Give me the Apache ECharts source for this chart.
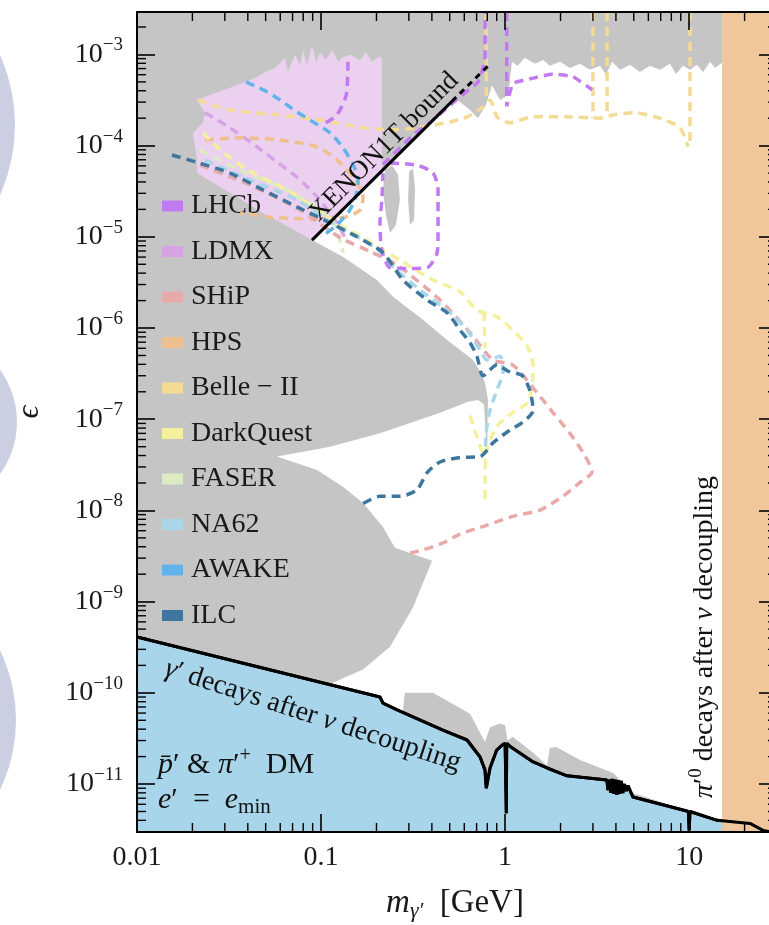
<!DOCTYPE html>
<html>
<head>
<meta charset="utf-8">
<script src="https://cdn.jsdelivr.net/npm/echarts@6/dist/echarts.min.js"></script>
<style>
html, body { margin: 0; padding: 0; background: #fff; }
#chart { width: 769px; height: 925px; }
</style>
</head>
<body>
<div id="chart"></div>
<script>
// values, as [m (GeV), epsilon]
const xTickLabels = ['0.01', '0.1', '1', '10']
const yTickPowers = [-11, -10, -9, -8, -7, -6, -5, -4, -3]
const minorSteps = [2, 3, 4, 5, 6, 7, 8, 9]
const xMin = 0.01
const xMax = 30
const yMin = 2.98e-12
const yMax = 2.92e-3

// excluded region (grey)
const greyMain = [
  [0.01, 2.92e-3], [15.1, 2.92e-3], [15.1, 8.1e-4], [13.8, 7.1e-4], [13.0, 8.3e-4], [11.9, 6.4e-4],
  [11.0, 7.7e-4], [10.1, 6.8e-4], [9.25, 7.5e-4], [8.48, 6.1e-4], [7.86, 7.9e-4], [6.94, 6.8e-4],
  [6.12, 7.5e-4], [5.4, 6.4e-4], [4.77, 7.7e-4], [4.21, 6.8e-4], [3.81, 8.3e-4], [3.53, 6.0e-4],
  [3.28, 7.5e-4], [2.89, 6.8e-4], [2.55, 7.9e-4], [2.25, 7.1e-4], [1.99, 8.3e-4], [1.75, 7.5e-4],
  [1.61, 8.7e-4], [1.45, 7.9e-4], [1.28, 9.2e-4], [1.17, 7.5e-4], [1.09, 8.3e-4], [1.04, 3.6e-4],
  [0.938, 3.17e-4], [0.849, 4.6e-4], [0.787, 2.8e-4], [0.712, 2.0e-4], [0.645, 2.46e-4], [0.535, 3.3e-4],
  [0.0893, 9.24e-6], [0.132, 6.0e-6], [0.201, 3.36e-6], [0.246, 2.2e-6], [0.358, 1.23e-6], [0.484, 7.4e-7],
  [0.669, 4.47e-7], [0.731, 3.36e-7], [0.778, 2.5e-7], [0.807, 1.63e-7], [0.797, 4.1e-8], [0.768, 1.45e-7],
  [0.712, 1.63e-7], [0.629, 1.56e-7], [0.443, 1.18e-7], [0.316, 9.3e-8], [0.209, 7.0e-8], [0.112, 5.0e-8],
  [0.0577, 3.9e-8], [0.095, 2.78e-8], [0.132, 1.81e-8], [0.169, 1.21e-8], [0.217, 6.6e-9], [0.252, 3.9e-9],
  [0.401, 2.8e-9], [0.316, 8.7e-10], [0.237, 3.2e-10], [0.169, 1.8e-10], [0.112, 1.25e-10], [0.01, 4.1e-10]
]
const greyIslandA = [[0.223, 5.4e-5], [0.243, 6.1e-5], [0.262, 4.8e-5], [0.268, 2.54e-5], [0.255, 1.35e-5], [0.237, 1.1e-5], [0.225, 1.74e-5], [0.217, 3.27e-5]]
const greyIslandB = [[0.301, 5.2e-5], [0.316, 5.6e-5], [0.324, 3.27e-5], [0.320, 1.53e-5], [0.304, 1.35e-5], [0.297, 2.54e-5]]
const greyLow = [
  [0.278, 6e-11], [0.285, 1.0e-10], [0.405, 1.0e-10], [0.645, 5.9e-11], [0.777, 2.9e-11], [0.828, 4.2e-11],
  [0.938, 4.6e-11], [1.0, 4.4e-11], [1.03, 3.0e-11], [1.10, 3.3e-11], [1.42, 2.2e-11], [1.69, 1.6e-11],
  [1.75, 2.5e-11], [1.9, 2.55e-11], [2.55, 1.84e-11], [3.86, 1.32e-11], [4.95, 8.0e-12], [6.94, 6.4e-12],
  [9.25, 5.1e-12], [9.5, 4e-12]
]
// LDMX projected reach (filled)
const ldmxArea = [
  [0.0212, 3.17e-4], [0.0249, 3.6e-4], [0.032, 4.3e-4], [0.0386, 5.0e-4], [0.0438, 5.5e-4], [0.0496, 6.4e-4],
  [0.0562, 7.1e-4], [0.0637, 9.2e-4], [0.0661, 6.4e-4], [0.0722, 9.9e-4], [0.0768, 7.5e-4], [0.0798, 1.12e-3],
  [0.0839, 7.7e-4], [0.0893, 1.27e-3], [0.0939, 8.3e-4], [0.0987, 1.06e-3], [0.106, 8.7e-4], [0.115, 1.12e-3],
  [0.124, 8.3e-4], [0.130, 9.2e-4], [0.144, 9.9e-4], [0.163, 8.7e-4], [0.175, 1.06e-3], [0.189, 8.3e-4],
  [0.204, 9.4e-4], [0.214, 9.2e-4], [0.214, 5.3e-5], [0.0893, 9.24e-6], [0.0678, 1.26e-5], [0.0484, 1.83e-5],
  [0.0212, 5.0e-5], [0.0212, 6.97e-5], [0.0201, 1.38e-4], [0.0228, 1.78e-4], [0.0234, 2.3e-4]
]
// gamma' decays after nu decoupling (black line, blue below)
const decayLine = [
  [0.01, 4.1e-10], [0.209, 9.0e-11], [0.217, 7.7e-11], [0.259, 6.5e-11], [0.459, 3.9e-11], [0.621, 3.04e-11],
  [0.731, 1.98e-11], [0.777, 1.43e-11], [0.79, 9.0e-12], [0.828, 1.5e-11], [0.90, 2.36e-11], [0.97, 2.7e-11],
  [1.0, 2.8e-11], [1.01, 2.8e-11], [1.015, 4.8e-12], [1.02, 2.8e-11], [1.06, 2.6e-11], [1.42, 1.75e-11],
  [1.69, 1.5e-11], [2.17, 1.23e-11], [3.57, 1.11e-11], [3.62, 8.6e-12], [3.68, 1.12e-11], [3.75, 8.0e-12],
  [3.82, 1.14e-11], [3.9, 7.8e-12], [3.97, 1.12e-11], [4.05, 7.6e-12], [4.12, 1.1e-11], [4.2, 7.8e-12],
  [4.28, 1.08e-11], [4.36, 8.0e-12], [4.45, 1.0e-11], [4.55, 8.4e-12], [4.65, 9.6e-12], [4.95, 7.2e-12],
  [9.25, 5.2e-12], [9.9, 5.0e-12], [10.0, 3.1e-12], [10.1, 5.0e-12], [14.2, 4.0e-12], [21.4, 3.7e-12],
  [25.2, 3.1e-12], [30, 2.9e-12]
]
const pionBand = [15.1, 30]
const xenonSolid = [[0.0893, 9.2e-6], [0.514, 3.06e-4]]
const xenonDashed = [[0.514, 3.06e-4], [0.83, 7.9e-4]]

// projections (dashed)
const lhcbA = [[0.140, 8.3e-4], [0.137, 3.6e-4], [0.122, 2.17e-4], [0.106, 1.78e-4]]
const lhcbB = [[0.217, 6.2e-5], [0.316, 1.3e-4], [0.406, 1.91e-4], [0.555, 3.3e-4], [0.712, 5.0e-4], [0.778, 8.7e-4], [0.778, 2.92e-3]]
const lhcbC = [[0.237, 6.45e-5], [0.332, 6.1e-5], [0.406, 5.0e-5], [0.432, 3.27e-5], [0.432, 1.83e-5], [0.432, 1.0e-5], [0.427, 6.7e-6], [0.377, 4.6e-6], [0.304, 4.5e-6], [0.237, 4.6e-6], [0.214, 7.18e-6], [0.209, 1.42e-5], [0.214, 2.54e-5], [0.217, 5.0e-5]]
const lhcbD = [[1.02, 2.92e-3], [1.02, 2.7e-4], [1.1, 4.8e-4], [1.42, 5.5e-4], [1.82, 6.1e-4], [2.34, 5.7e-4], [2.97, 4.1e-4]]
const ldmx = [[0.0234, 2.3e-4], [0.032, 1.57e-4], [0.0449, 9.7e-5], [0.0577, 6.6e-5], [0.074, 4.5e-5], [0.095, 2.75e-5], [0.119, 1.53e-5], [0.135, 9.8e-6]]
const ship = [
  [0.022, 6.1e-5], [0.0411, 3.7e-5], [0.0768, 1.97e-5], [0.127, 9.8e-6], [0.185, 6.9e-6], [0.259, 4.9e-6],
  [0.443, 2.03e-6], [0.645, 8.9e-7], [0.859, 4.47e-7], [1.10, 3.95e-7], [1.49, 1.96e-7], [1.82, 1.18e-7],
  [2.25, 7.0e-8], [2.65, 4.3e-8], [2.97, 2.65e-8], [2.55, 2.03e-8], [2.06, 1.43e-8], [1.55, 1.01e-8],
  [1.10, 8.6e-9], [0.797, 6.9e-9], [0.569, 5.5e-9], [0.46, 4.4e-9], [0.358, 3.7e-9], [0.304, 3.4e-9]
]
const hps = [
  [0.0234, 1.15e-4], [0.0363, 1.22e-4], [0.0598, 1.15e-4], [0.095, 9.7e-5], [0.122, 6.97e-5], [0.149, 4.5e-5],
  [0.169, 2.75e-5], [0.163, 1.97e-5], [0.135, 1.65e-5], [0.0871, 1.57e-5], [0.0528, 1.65e-5], [0.0363, 1.83e-5]
]
const belle = [
  [0.0214, 3.17e-4], [0.032, 2.46e-4], [0.0598, 2.17e-4], [0.0987, 1.91e-4], [0.138, 1.69e-4], [0.169, 1.57e-4],
  [0.259, 1.49e-4], [0.332, 1.57e-4], [0.502, 1.82e-4], [0.621, 2.07e-4], [0.759, 2.66e-4], [0.828, 3.17e-4],
  [0.904, 2.07e-4], [1.06, 1.78e-4], [1.42, 2.07e-4], [2.17, 2.07e-4], [3.28, 2.0e-4], [3.86, 2.17e-4],
  [4.95, 2.3e-4], [6.94, 2.0e-4], [8.91, 1.57e-4], [9.86, 9.7e-5]
]
const belleBands = [
  [[0.79, 2.92e-3], [0.79, 3.17e-4]],
  [[3.0, 2.92e-3], [3.0, 2.0e-4]],
  [[3.58, 2.92e-3], [3.58, 2.1e-4]],
  [[10.1, 2.92e-3], [10.1, 1.0e-4]]
]
const darkQuest = [
  [0.0228, 1.38e-4], [0.0272, 9.7e-5], [0.0332, 6.97e-5], [0.0427, 5.0e-5], [0.0548, 3.9e-5], [0.0705, 3.03e-5],
  [0.0904, 2.13e-5], [0.127, 1.35e-5], [0.178, 9.24e-6], [0.217, 7.18e-6], [0.268, 5.57e-6], [0.406, 3.36e-6],
  [0.569, 2.5e-6], [0.703, 1.58e-6], [0.904, 1.33e-6], [1.10, 9.5e-7], [1.32, 6.3e-7], [1.42, 3.77e-7],
  [1.40, 2.3e-7], [1.32, 1.52e-7], [1.10, 1.18e-7], [0.904, 8.4e-8], [0.797, 4.6e-8], [0.778, 2.1e-8], [0.778, 1.3e-8]
]
const darkQuestB = [[0.645, 1.1e-7], [0.703, 6.4e-8], [0.778, 3.6e-8]]
const darkQuestC = [[0.768, 1.5e-6], [0.778, 6.0e-7]]
const faser = [[0.022, 8.97e-5], [0.032, 6.1e-5], [0.0449, 4.5e-5], [0.0598, 3.54e-5], [0.0768, 2.69e-5], [0.0987, 1.97e-5], [0.119, 1.35e-5], [0.132, 6.7e-6]]
const na62 = [
  [0.0234, 6.97e-5], [0.0411, 4.21e-5], [0.074, 2.54e-5], [0.119, 1.35e-5], [0.169, 9.24e-6], [0.204, 7.18e-6],
  [0.246, 4.7e-6], [0.345, 2.62e-6], [0.502, 1.47e-6], [0.621, 9.5e-7], [0.731, 5.75e-7], [0.797, 4.47e-7],
  [0.938, 4.9e-7], [0.973, 3.3e-7], [0.904, 2.1e-7], [0.828, 1.26e-7], [0.797, 8.4e-8], [0.778, 4.6e-8]
]
const awake = [
  [0.0391, 5.0e-4], [0.0508, 3.9e-4], [0.0598, 3.17e-4], [0.074, 2.34e-4], [0.0904, 1.82e-4], [0.112, 1.38e-4],
  [0.132, 9.4e-5], [0.149, 6.2e-5], [0.159, 4.2e-5], [0.155, 2.9e-5], [0.144, 2.0e-5], [0.122, 1.35e-5], [0.1, 1.0e-5]
]
const ilc = [
  [0.0155, 7.9e-5], [0.022, 6.4e-5], [0.032, 5.0e-5], [0.0484, 3.27e-5], [0.074, 2.13e-5], [0.112, 1.42e-5],
  [0.157, 1.0e-5], [0.217, 6.7e-6], [0.279, 3.36e-6], [0.377, 2.03e-6], [0.484, 1.47e-6], [0.569, 9.5e-7],
  [0.645, 6.9e-7], [0.703, 4.9e-7], [0.759, 3.0e-7], [0.904, 3.95e-7], [1.04, 3.36e-7], [1.24, 3.0e-7],
  [1.36, 2.1e-7], [1.42, 1.26e-7], [1.25, 9.3e-8], [1.06, 7.6e-8], [0.859, 5.5e-8], [0.731, 3.9e-8],
  [0.569, 3.8e-8], [0.443, 3.4e-8], [0.377, 2.6e-8], [0.332, 1.68e-8], [0.268, 1.43e-8], [0.209, 1.43e-8], [0.167, 1.17e-8]
]

const FONT = "'Liberation Serif', 'DejaVu Serif', serif"
const colors = {
  'LHCb': '#c17af1',
  'LDMX': '#d7a2e6',
  'SHiP': '#e8aaa8',
  'HPS': '#f0bf8e',
  'Belle − II': '#f3da95',
  'DarkQuest': '#f4f09c',
  'FASER': '#dcebc0',
  'NA62': '#a8d7ea',
  'AWAKE': '#62b3ea',
  'ILC': '#3d77a0'
}

const xMinor = []
const yMinor = []
for (let k = -2; k <= 1; k++) {
  minorSteps.forEach(m => { const v = m * Math.pow(10, k); if (v < xMax) xMinor.push(v) })
}
for (let k = -12; k <= -3; k++) {
  minorSteps.forEach(m => { const v = m * Math.pow(10, k); if (v > yMin && v < yMax) yMinor.push(v) })
}

function polygon (points, color, z) {
  return {
    type: 'custom',
    silent: true,
    clip: true,
    z: z,
    data: points,
    renderItem: (params, api) => {
      if (params.dataIndex !== 0) return null
      return {
        type: 'polygon',
        shape: { points: points.map(p => api.coord(p)) },
        style: { fill: color }
      }
    }
  }
}

function dashed (name, data, smooth) {
  return {
    type: 'line',
    name: name,
    data: data,
    symbol: 'none',
    smooth: smooth === undefined ? 0.25 : smooth,
    silent: true,
    z: 7,
    itemStyle: { color: colors[name] },
    lineStyle: { color: colors[name], width: 3.5, type: [9, 6] }
  }
}

function xLabel (v) {
  const l = Math.log10(v)
  const e = Math.round(l)
  if (Math.abs(l - e) > 1e-3) return ''
  return xTickLabels[e + 2] || ''
}

function yLabel (v) {
  const l = Math.log10(v)
  const e = Math.round(l)
  if (Math.abs(l - e) > 1e-3 || yTickPowers.indexOf(e) < 0) return ''
  return '{b|10}{s|−' + (-e) + '}'
}

const axisCommon = {
  z: 10,
  axisLine: { show: true, onZero: false, lineStyle: { color: '#000', width: 2 } },
  axisTick: { show: true, inside: true, length: 18, lineStyle: { color: '#000', width: 1.6 } },
  splitLine: { show: false }
}

const italic = { fontStyle: 'italic', fontSize: 30, fontFamily: FONT }

const chart = echarts.init(document.getElementById('chart'))
const option = {
  animation: false,
  backgroundColor: '#fff',
  grid: { left: 137, width: 640, top: 12, height: 820, containLabel: false, outerBoundsMode: 'none' },
  xAxis: [
    Object.assign({
      type: 'log', min: xMin, max: xMax, position: 'bottom',
      axisLabel: { interval: 0, margin: 12, color: '#1a1a1a', fontFamily: FONT, fontSize: 28, formatter: xLabel }
    }, axisCommon),
    Object.assign({
      type: 'log', min: xMin, max: xMax, position: 'top', axisLabel: { show: false }
    }, axisCommon)
  ],
  yAxis: [
    Object.assign({
      type: 'log', min: yMin, max: yMax, position: 'left',
      axisLabel: {
        interval: 0, margin: 14, color: '#1a1a1a', fontFamily: FONT, formatter: yLabel,
        rich: {
          b: { fontSize: 28, fontFamily: FONT, color: '#1a1a1a' },
          s: { fontSize: 19, fontFamily: FONT, color: '#1a1a1a', padding: [0, 0, 18, 0] }
        }
      }
    }, axisCommon),
    Object.assign({
      type: 'log', min: yMin, max: yMax, position: 'right', axisLabel: { show: false }
    }, axisCommon)
  ],
  legend: {
    data: Object.keys(colors),
    orient: 'vertical',
    left: 157,
    top: 186,
    itemWidth: 21,
    itemHeight: 11,
    itemGap: 15.5,
    icon: 'rect',
    selectedMode: false,
    itemStyle: { borderWidth: 0 },
    textStyle: { fontFamily: FONT, fontSize: 28, color: '#1a1a1a', lineHeight: 30, padding: [0, 0, 0, 3] }
  },
  graphic: [
    { type: 'circle', shape: { cx: -156, cy: 125, r: 171 }, style: { fill: '#cbcfe1' }, z: -1 },
    { type: 'circle', shape: { cx: -71, cy: 422, r: 88 }, style: { fill: '#cbcfe1' }, z: -1 },
    { type: 'circle', shape: { cx: -145, cy: 720, r: 161 }, style: { fill: '#cbcfe1' }, z: -1 },
    {
      type: 'text', x: 30, y: 412, rotation: Math.PI / 2, z: 100,
      style: { text: 'ϵ', font: 'italic 32px ' + FONT, fill: '#1a1a1a', align: 'center', verticalAlign: 'middle' }
    },
    {
      type: 'text', x: 455, y: 903, z: 100,
      style: {
        text: '{i|m}{sub|γ′} [GeV]', font: '33px ' + FONT, fill: '#1a1a1a', align: 'center', verticalAlign: 'middle',
        rich: {
          i: { fontStyle: 'italic', fontSize: 33, fontFamily: FONT },
          sub: { fontStyle: 'italic', fontSize: 22, fontFamily: FONT, padding: [16, 8, 0, 0] }
        }
      }
    },
    {
      type: 'text', x: 384, y: 147, rotation: Math.PI / 4, z: 100,
      style: { text: 'XENON1T bound', font: '27px ' + FONT, fill: '#111', align: 'center', verticalAlign: 'middle' }
    },
    {
      type: 'text', x: 313, y: 716, rotation: -0.315, z: 100,
      style: {
        text: '{j|γ}′ decays after {j|ν} decoupling', font: '28px ' + FONT, fill: '#111', align: 'center', verticalAlign: 'middle',
        rich: { j: { fontStyle: 'italic', fontSize: 28, fontFamily: FONT } }
      }
    },
    {
      type: 'text', x: 158, y: 765, z: 100,
      style: {
        text: '{i|p\u0304}′ & {i|π}′{s|+}  DM', font: '30px ' + FONT, fill: '#111', align: 'left', verticalAlign: 'middle',
        rich: {
          i: italic,
          s: { fontSize: 20, fontFamily: FONT, padding: [0, 0, 18, 0] }
        }
      }
    },
    {
      type: 'text', x: 158, y: 800, z: 100,
      style: {
        text: '{i|e}′  =  {i|e}{sub|min}', font: '30px ' + FONT, fill: '#111', align: 'left', verticalAlign: 'middle',
        rich: {
          i: italic,
          sub: { fontSize: 21, fontFamily: FONT, padding: [14, 0, 0, 0] }
        }
      }
    },
    {
      type: 'text', x: 705, y: 637, rotation: Math.PI / 2, z: 100,
      style: {
        text: '{j|π}′{s|0} decays after {j|ν} decoupling', font: '28px ' + FONT, fill: '#111', align: 'center', verticalAlign: 'middle',
        rich: {
          j: { fontStyle: 'italic', fontSize: 28, fontFamily: FONT },
          s: { fontSize: 19, fontFamily: FONT, padding: [0, 0, 18, 0] }
        }
      }
    }
  ],
  series: [
    polygon(greyMain, '#c5c5c5', 1),
    polygon(greyIslandA, '#c5c5c5', 1),
    polygon(greyIslandB, '#c5c5c5', 1),
    polygon(ldmxArea, '#ebd0f0', 2),
    {
      type: 'line', data: greyLow, symbol: 'none', silent: true, z: 3,
      lineStyle: { width: 0 },
      areaStyle: { color: '#c5c5c5', origin: 'start', opacity: 1 }
    },
    {
      type: 'line', data: decayLine, symbol: 'none', silent: true, z: 4,
      lineStyle: { color: '#000', width: 3 },
      areaStyle: { color: '#a9d5ea', origin: 'start', opacity: 1 }
    },
    polygon([[pionBand[0], yMin], [pionBand[1], yMin], [pionBand[1], yMax], [pionBand[0], yMax]], '#f0c79a', 5),
    {
      type: 'line', data: decayLine, symbol: 'none', silent: true, z: 6,
      lineStyle: { color: '#000', width: 3 }
    },
    dashed('Belle − II', belle),
    ...belleBands.map(b => dashed('Belle − II', b, false)),
    dashed('LDMX', ldmx),
    dashed('HPS', hps),
    dashed('FASER', faser),
    dashed('DarkQuest', darkQuest),
    dashed('DarkQuest', darkQuestB),
    dashed('DarkQuest', darkQuestC, false),
    dashed('SHiP', ship),
    dashed('NA62', na62),
    dashed('AWAKE', awake),
    dashed('LHCb', lhcbA),
    dashed('LHCb', lhcbB, 0.1),
    dashed('LHCb', lhcbC),
    dashed('LHCb', lhcbD, 0.1),
    dashed('ILC', ilc),
    {
      type: 'line', data: xenonSolid, symbol: 'none', silent: true, z: 8,
      lineStyle: { color: '#000', width: 3 }
    },
    {
      type: 'line', data: xenonDashed, symbol: 'none', silent: true, z: 8,
      lineStyle: { color: '#000', width: 3, type: [6, 5] }
    },
    {
      type: 'custom', silent: true, clip: false, z: 9,
      data: xMinor.map(v => [v, 1e-6]),
      renderItem: (params, api) => {
        const cs = params.coordSys
        const px = api.coord([api.value(0), api.value(1)])[0]
        const b = cs.y + cs.height
        return {
          type: 'group',
          children: [
            { type: 'line', shape: { x1: px, y1: b, x2: px, y2: b - 9 }, style: { stroke: '#000', lineWidth: 1.4 } },
            { type: 'line', shape: { x1: px, y1: cs.y, x2: px, y2: cs.y + 9 }, style: { stroke: '#000', lineWidth: 1.4 } }
          ]
        }
      }
    },
    {
      type: 'custom', silent: true, clip: false, z: 9,
      data: yMinor.map(v => [1, v]),
      renderItem: (params, api) => {
        const cs = params.coordSys
        const py = api.coord([api.value(0), api.value(1)])[1]
        const r = cs.x + cs.width
        return {
          type: 'group',
          children: [
            { type: 'line', shape: { x1: cs.x, y1: py, x2: cs.x + 9, y2: py }, style: { stroke: '#000', lineWidth: 1.4 } },
            { type: 'line', shape: { x1: r, y1: py, x2: r - 9, y2: py }, style: { stroke: '#000', lineWidth: 1.4 } }
          ]
        }
      }
    }
  ]
}
chart.setOption(option)
</script>
</body>
</html>
